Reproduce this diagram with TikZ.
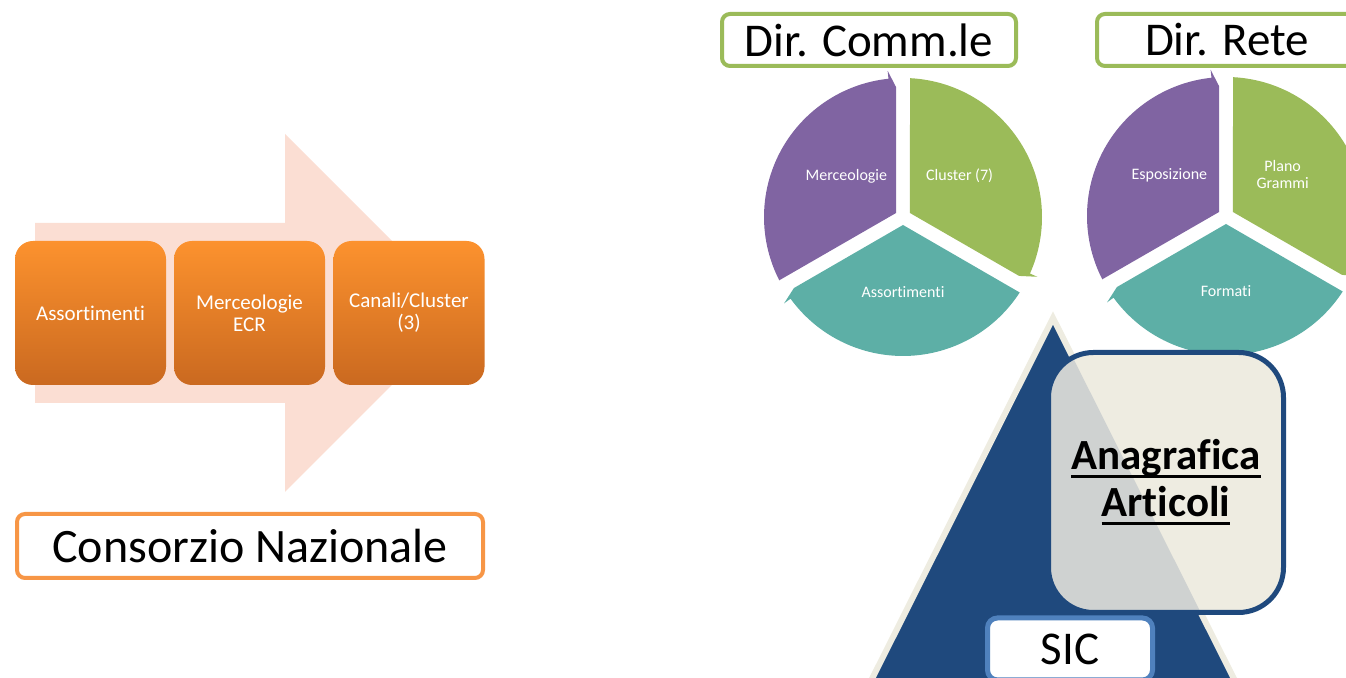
\documentclass[tikz,border=0pt]{standalone}
\usepackage{fontspec}
\setmainfont[Ligatures=CommonOff]{Carlito}
\usepackage{xcolor}
\usepackage{tikz}
\usetikzlibrary{calc}

\definecolor{arrowpink}{RGB}{251,222,211}
\definecolor{orangetop}{RGB}{252,146,46}
\definecolor{orangebot}{RGB}{202,105,32}
\definecolor{orangeline}{RGB}{247,150,70}
\definecolor{dirgreen}{RGB}{155,187,89}
\definecolor{segpurple}{RGB}{128,100,162}
\definecolor{seggreen}{RGB}{155,187,89}
\definecolor{segteal}{RGB}{93,175,166}
\definecolor{sicdark}{RGB}{31,73,125}
\definecolor{sicbeige}{RGB}{238,236,225}
\definecolor{sicblue}{RGB}{79,129,189}
\definecolor{overlapgray}{RGB}{207,210,209}

% underlined word with the rule at a fixed depth
\newsavebox\ulbox
\newcommand\ulword[1]{\sbox\ulbox{#1}\rlap{\rule[-4.1pt]{\wd\ulbox}{1.5pt}}\usebox\ulbox}

\tikzset{
  orangebox/.style={rounded corners=9pt, top color=orangetop, bottom color=orangebot,
    minimum width=75.5pt, minimum height=72pt, inner sep=0pt, align=center,
    text=white, font=\fontsize{10.5pt}{11pt}\selectfont},
  dirbox/.style={draw=dirgreen, line width=2pt, fill=white, rounded corners=4pt,
    minimum height=26pt, inner sep=0pt, font=\fontsize{23.5pt}{28pt}\selectfont},
  seglabel/.style={text=white, align=center, inner sep=0pt,
    font=\fontsize{8pt}{8.5pt}\selectfont}
}

\begin{document}
\begin{tikzpicture}[x=0.5pt,y=0.5pt]
\useasboundingbox (0,0) rectangle (1346,678);
\clip (0,0) rectangle (1346,678);

% left: big arrow with the three steps
\fill[arrowpink] (35,455) -- (285,455) -- (285,544) -- (464,365) -- (285,186) -- (285,275) -- (35,275) -- cycle;
\node[orangebox] (assort) at (90.5,365) {Assortimenti};
\node[orangebox] (mercecr) at (249.5,365) {Merceologie\\ECR};
\node[orangebox] (canali) at (409,365) {Canali/Cluster\\(3)};
\node[draw=orangeline, line width=2pt, fill=white, rounded corners=4pt,
  minimum width=233pt, minimum height=32pt, inner sep=0pt,
  font=\fontsize{24pt}{29pt}\selectfont] (consorzio) at (250,132) {Consorzio Nazionale};

% right: the two cycles
\coordinate (c1) at (903,461);
\coordinate (c2) at (1226,462);
\foreach \ctr in {c1,c2}
  \foreach \s/\e/\col in {210/90/segpurple, 90/-30/seggreen, -30/-150/segteal}
    \fill[\col] ($(\ctr)+({(\s+\e)/2}:8)$) -- ($(\ctr)+({\s-2.9}:139)$)
      arc[start angle=\s-2.9, end angle=\e+6, radius=139]
      -- ($(\ctr)+({\e+6}:147)$) -- ($(\ctr)+(\e:130)+({\e+90}:7)$) -- cycle;

\node[seglabel] (merc) at ($(c1)+(144:70)$) {Merceologie};
\node[seglabel] (cluster) at ($(c1)+(36:70)$) {Cluster (7)};
\node[seglabel] (assortc) at ($(c1)+(270:75)$) {Assortimenti};
\node[seglabel] (espo) at ($(c2)+(144:70)$) {Esposizione};
\node[seglabel] (plano) at ($(c2)+(36:70)$) {Plano\\Grammi};
\node[seglabel] (formati) at ($(c2)+(270:75)$) {Formati};

\node[dirbox, minimum width=147pt] (dircomm) at (869,638) {Dir. Comm.le};
\node[dirbox, minimum width=130pt] (dirrete) at (1227,638) {Dir. Rete};

% pyramid with the SIC
\filldraw[fill=sicdark, draw=sicbeige, line width=3pt] (1053,360) -- (1253.6,-40) -- (852.4,-40) -- cycle;
\fill[sicbeige, rounded corners=22.5pt] (1050.5,65.5) rectangle (1285.5,325.5);
\begin{scope}
\clip[rounded corners=22.5pt] (1050.5,65.5) rectangle (1285.5,325.5);
\fill[overlapgray] (1053,360) -- (1253.6,-40) -- (852.4,-40) -- cycle;
\end{scope}
\node[draw=sicdark, line width=2.5pt, rounded corners=22.5pt, minimum width=117.5pt,
  minimum height=130pt, align=center, font=\bfseries\fontsize{21.5pt}{23.5pt}\selectfont]
  (anagrafica) at (1166,195.5) {\ulword{Anagrafica}\\\ulword{Articoli}};
\node[draw=sicblue, line width=2.5pt, fill=white, rounded corners=5pt, minimum width=82.5pt,
  minimum height=31pt, inner sep=0pt, font=\fontsize{23.5pt}{28pt}\selectfont] (sic) at (1070,29) {SIC};
\end{tikzpicture}
\end{document}
